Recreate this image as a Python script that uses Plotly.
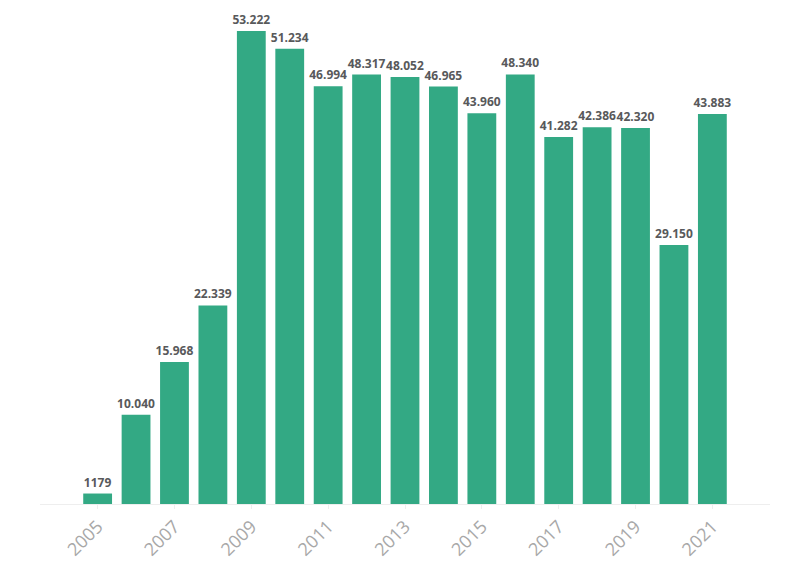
import plotly.graph_objects as go

years = list(range(2005, 2022))
values = [1179, 10040, 15968, 22339, 53222, 51234, 46994, 48317, 48052,
          46965, 43960, 48340, 41282, 42386, 42320, 29150, 43883]
labels = ["1179", "10.040", "15.968", "22.339", "53.222", "51.234", "46.994",
          "48.317", "48.052", "46.965", "43.960", "48.340", "41.282", "42.386",
          "42.320", "29.150", "43.883"]

fig = go.Figure(go.Bar(
    x=years, y=values, text=labels, textposition="outside",
    constraintext="none",
    textfont=dict(family="Open Sans", size=12, color="#58595b", weight="bold"),
    marker=dict(color="#33a984", line=dict(width=0)),
    cliponaxis=False,
))
fig.update_layout(
    width=796, height=575,
    margin=dict(l=32, r=34, t=0, b=79, autoexpand=False),
    paper_bgcolor="white", plot_bgcolor="white",
    bargap=0.25, showlegend=False,
    font=dict(family="Open Sans"),
)
fig.update_xaxes(range=[2003.5, 2022.5], tick0=2005, dtick=2, tickangle=-45,
                 tickfont=dict(size=18, color="#a8a8a8"), showgrid=False,
                 automargin=False,
                 showline=True, linecolor="#eeeeee", linewidth=1,
                 ticks="outside", ticklen=4, tickcolor="#eeeeee")
fig.update_yaxes(range=[0, 55810], visible=False, showgrid=False,
                 automargin=False)
fig.write_html("out.html")
